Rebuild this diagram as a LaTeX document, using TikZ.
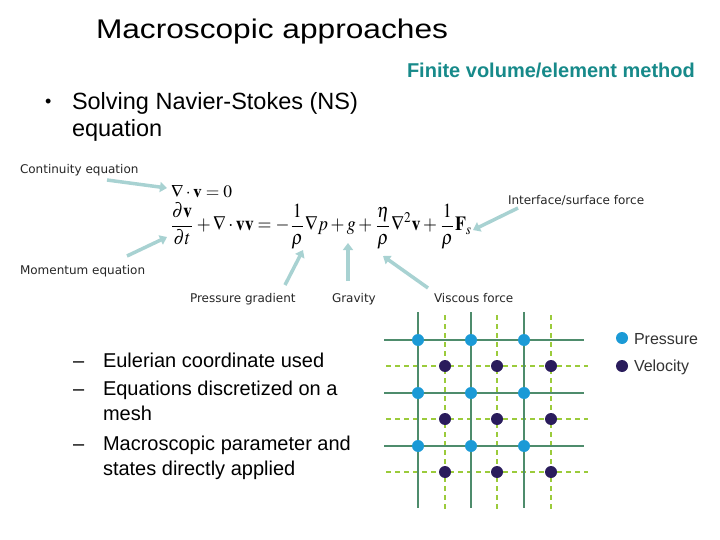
\documentclass[tikz,border=0pt]{standalone}
\usepackage{mathptmx}
\usepackage[no-math]{fontspec}
\setmainfont{Liberation Sans}
\newfontfamily\lblfont{DejaVu Sans}
\usetikzlibrary{arrows.meta}
\definecolor{teal1}{HTML}{178A8A}
\definecolor{arrowc}{HTML}{A8D2D2}
\definecolor{gridsolid}{HTML}{4E8C6C}
\definecolor{griddash}{HTML}{9BCB3B}
\definecolor{pres}{HTML}{1B9AD6}
\definecolor{velo}{HTML}{2A1C5C}
\begin{document}
\begin{tikzpicture}[x=1pt,y=-1pt,
  txt/.style={anchor=base west,inner sep=0pt,outer sep=0pt},
  lbl/.style={txt,font=\lblfont\fontsize{12}{14}\selectfont,text=black!85},
  body/.style={txt,font=\fontsize{20}{24}\selectfont},
  ann/.style={draw=arrowc,line width=3.5pt,-{Triangle[length=7pt,width=10pt]}},
  solidln/.style={draw=gridsolid,line width=2.7pt},
  dashln/.style={draw=griddash,line width=1.8pt,dash pattern=on 5pt off 4pt},
  pdot/.style={circle,fill=pres,minimum size=12pt,inner sep=0pt},
  vdot/.style={circle,fill=velo,minimum size=12pt,inner sep=0pt}]
\useasboundingbox (0,0) rectangle (720,540);
\fill[white] (0,0) rectangle (720,540);

% title and headers
\node[txt,font=\fontsize{27}{32}\selectfont] (title) at (96,39) {\resizebox{352pt}{\height}{Macroscopic approaches}};
\node[txt,font=\bfseries\fontsize{20}{24}\selectfont,text=teal1] (fvm) at (407,78) {Finite volume/element method};
\node[txt,font=\fontsize{18}{22}\selectfont] (bul) at (45,108) {\textbullet};
\node[txt,font=\fontsize{23.5}{28}\selectfont] (ns1) at (72,110) {Solving Navier-Stokes (NS)};
\node[txt,font=\fontsize{23.5}{28}\selectfont] (ns2) at (72,137) {equation};

% labels
\node[lbl] (cont) at (20,174) {Continuity equation};
\node[lbl] (mom) at (20,274) {Momentum equation};
\node[lbl] (pg) at (190,302) {Pressure gradient};
\node[lbl] (grav) at (332,302) {Gravity};
\node[lbl] (visc) at (434,302) {Viscous force};
\node[lbl] (intf) at (508,205) {Interface/surface force};

% equations
\node[txt] (conteq) at (171,197) {\resizebox{61pt}{!}{$\nabla\cdot\mathbf{v}=0$}};
\node[txt] (momeq) at (170,231) {\scalebox{1}[1.12]{\resizebox{302pt}{!}{$\displaystyle \frac{\partial\mathbf{v}}{\partial t}+\nabla\cdot\mathbf{v}\mathbf{v}=-\frac{1}{\rho}\nabla p+g+\frac{\eta}{\rho}\nabla^{2}\mathbf{v}+\frac{1}{\rho}\mathbf{F}_{s}$}}};

% annotation arrows
\coordinate (a1s) at (107,180); \coordinate (a1e) at (167,188);
\coordinate (a2s) at (127,256); \coordinate (a2e) at (167,237);
\coordinate (a3s) at (285,285); \coordinate (a3e) at (303,250);
\coordinate (a4s) at (348,281); \coordinate (a4e) at (348,243);
\coordinate (a5s) at (428,288); \coordinate (a5e) at (383,256);
\coordinate (a6s) at (518,208); \coordinate (a6e) at (473,230);
\draw[ann] (a1s) -- (a1e);
\draw[ann] (a2s) -- (a2e);
\draw[ann] (a3s) -- (a3e);
\draw[ann] (a4s) -- (a4e);
\draw[ann] (a5s) -- (a5e);
\draw[ann] (a6s) -- (a6e);

% list
\node[body] (d1) at (73,367) {--};
\node[body] (l1) at (103,367) {Eulerian coordinate used};
\node[body] (d2) at (73,395) {--};
\node[body] (l2) at (103,395) {Equations discretized on a};
\node[body] (l2b) at (103,420) {mesh};
\node[body] (d3) at (73,450) {--};
\node[body] (l3) at (103,450) {Macroscopic parameter and};
\node[body] (l3b) at (103,475) {states directly applied};

% staggered grid
\foreach \x in {445,497,551} \draw[dashln] (\x,315) -- (\x,512);
\foreach \y in {366,419,472} \draw[dashln] (386,\y) -- (588,\y);
\foreach \x in {418,471,524} \draw[solidln] (\x,312) -- (\x,508);
\foreach \y in {340,393,446} \draw[solidln] (384,\y) -- (584,\y);
\foreach \x [count=\i] in {418,471,524}
  \foreach \y [count=\j] in {340,393,446}
    \node[pdot] (p\i\j) at (\x,\y) {};
\foreach \x [count=\i] in {445,497,551}
  \foreach \y [count=\j] in {366,419,472}
    \node[vdot] (v\i\j) at (\x,\y) {};

% legend
\node[pdot] (lp) at (622,338) {};
\node[txt,font=\fontsize{16}{19}\selectfont,text=black!80] (lpt) at (634,344) {Pressure};
\node[vdot] (lv) at (622,366) {};
\node[txt,font=\fontsize{16}{19}\selectfont,text=black!80] (lvt) at (634,371) {Velocity};
\end{tikzpicture}
\end{document}
